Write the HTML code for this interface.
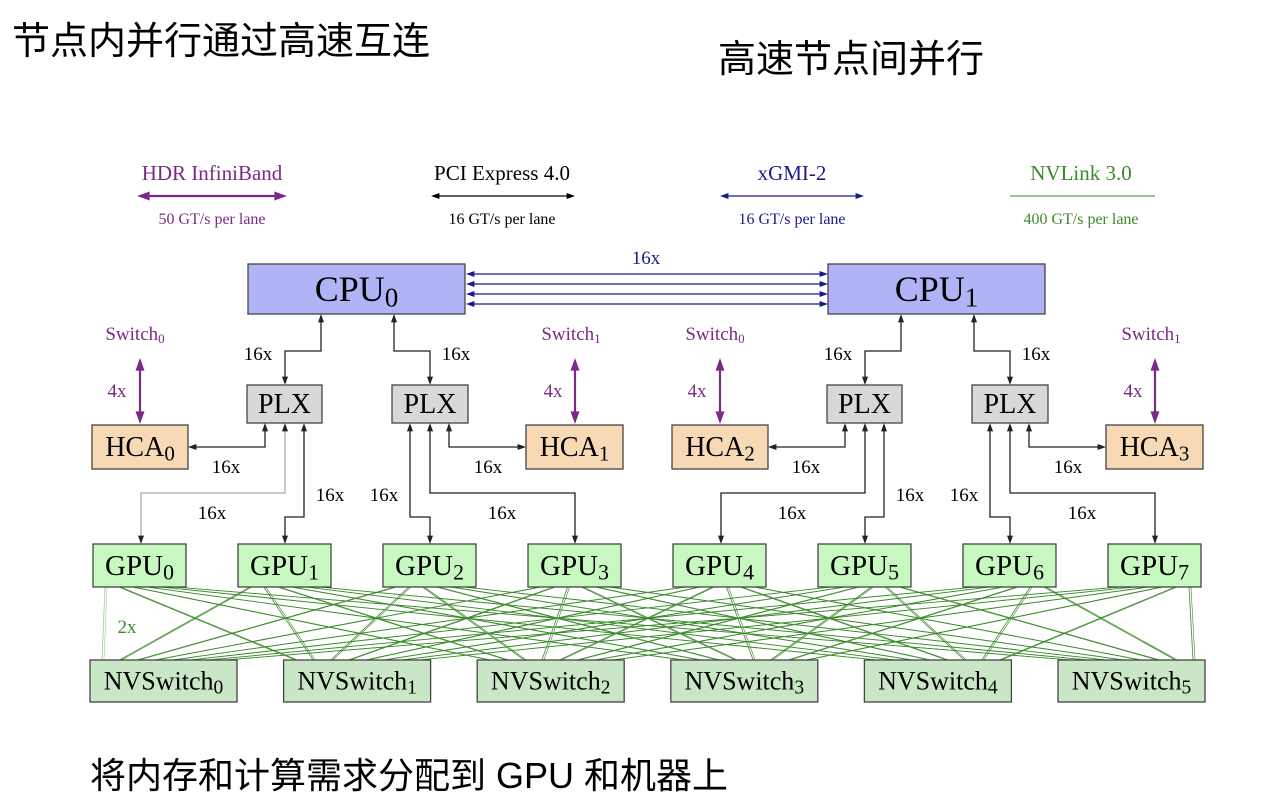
<!DOCTYPE html>
<html><head><meta charset="utf-8">
<style>
html,body{margin:0;padding:0;background:#fff;}
body{width:1287px;height:804px;position:relative;overflow:hidden;}
.cn{position:absolute;font-family:"Liberation Sans","Noto Sans CJK SC",sans-serif;color:#000;white-space:nowrap;line-height:1;}
svg{position:absolute;left:0;top:0;}
svg text{font-family:"Liberation Serif","DejaVu Serif",serif;}
</style></head><body>
<div class="cn" style="left:12px;top:23px;font-size:38px;">节点内并行通过高速互连</div>
<div class="cn" style="left:718px;top:41px;font-size:38px;">高速节点间并行</div>
<div class="cn" style="left:90px;top:758px;font-size:36px;">将内存和计算需求分配到 GPU 和机器上</div>
<svg id="s" width="1287" height="804" viewBox="0 0 1287 804"></svg>
<script>
var o='';
function ln(x1,y1,x2,y2,c,w){o+='<line x1="'+x1+'" y1="'+y1+'" x2="'+x2+'" y2="'+y2+'" stroke="'+c+'" stroke-width="'+(w||1.3)+'"/>';}
function pl(pts,c,w){o+='<polyline points="'+pts+'" fill="none" stroke="'+c+'" stroke-width="'+(w||1.3)+'"/>';}
function ah(x,y,dir,c,s){s=s||6;var p;
 if(dir=='u')p=[x,y,x-s/2,y+s*1.4,x+s/2,y+s*1.4];
 if(dir=='d')p=[x,y,x-s/2,y-s*1.4,x+s/2,y-s*1.4];
 if(dir=='l')p=[x,y,x+s*1.4,y-s/2,x+s*1.4,y+s/2];
 if(dir=='r')p=[x,y,x-s*1.4,y-s/2,x-s*1.4,y+s/2];
 o+='<polygon points="'+p.join(',')+'" fill="'+c+'"/>';}
function tx(x,y,t,sz,c,anc){o+='<text x="'+x+'" y="'+y+'" font-size="'+sz+'" fill="'+(c||'#000')+'" text-anchor="'+(anc||'middle')+'">'+t+'</text>';}
function box(x,y,w,h,f,label,sub,sz){o+='<rect x="'+x+'" y="'+y+'" width="'+w+'" height="'+h+'" fill="'+f+'" stroke="#444" stroke-width="1.3"/>';
 o+='<text x="'+(x+w/2)+'" y="'+(y+h/2+sz*0.33)+'" font-size="'+sz+'" text-anchor="middle">'+label+(sub!==''?'<tspan font-size="'+(sz*0.75)+'" dy="'+(sz*0.15)+'">'+sub+'</tspan>':'')+'</text>';}
var pur='#7a2a86',nav='#1a1a8c',grn='#3a8a2a';
tx(212,180,'HDR InfiniBand',21,pur);ln(142,196,282,196,pur,2.2);ah(137,196,'l',pur,9);ah(287,196,'r',pur,9);tx(212,224,'50 GT/s per lane',16,pur);
tx(502,180,'PCI Express 4.0',21,'#000');ln(436,196,570,196,'#000',1.3);ah(431,196,'l','#000',6);ah(575,196,'r','#000',6);tx(502,224,'16 GT/s per lane',16,'#000');
tx(792,180,'xGMI-2',21,nav);ln(726,196,858,196,nav,1.3);ah(720,196,'l',nav,6);ah(864,196,'r',nav,6);tx(792,224,'16 GT/s per lane',16,nav);
tx(1081,180,'NVLink 3.0',21,grn);ln(1010,196,1155,196,grn,1);tx(1081,224,'400 GT/s per lane',16,grn);
[274,284,294,304].forEach(function(y){ln(472,y,822,y,nav,1.2);ah(466,y,'l',nav,6);ah(828,y,'r',nav,6);});
tx(646,264,'16x',19,nav);
var gx=[],nx=[];
for(var i=0;i<8;i++)gx.push(93+i*145);
for(var j=0;j<6;j++)nx.push(90+j*193.6);
for(var i=0;i<8;i++)for(var j=0;j<6;j++){
 var x1=gx[i]+12+j*(93-24)/5, x2=nx[j]+12+i*(147-24)/7;
 var c=(i==0&&j==0)?'#9fc99a':grn;
 ln(x1,587,x2,660,c,0.8);ln(x1+2,587,x2+2,660,c,0.6);
}
tx(127,633,'2x',19,grn);
for(var h=0;h<2;h++){
 var d=h*580,k='#222';
 box(248+d,264,217,50,'#b0b4f7','CPU',h?'1':'0',36);
 pl((321+d)+',321 '+(321+d)+',351 '+(285+d)+',351 '+(285+d)+',378',k);ah(321+d,314,'u',k);ah(285+d,385,'d',k);
 pl((394+d)+',321 '+(394+d)+',351 '+(430+d)+',351 '+(430+d)+',378',k);ah(394+d,314,'u',k);ah(430+d,385,'d',k);
 tx(258+d,360,'16x',19);tx(456+d,360,'16x',19);
 box(247+d,385,75,38,'#d8d8d8','PLX','',28);
 box(392+d,385,76,38,'#d8d8d8','PLX','',28);
 box(92+d,425,96,44,'#f8d9b6','HCA',h?'2':'0',28);
 box(526+d,425,97,44,'#f8d9b6','HCA',h?'3':'1',28);
 tx(135+d,340,'Switch<tspan font-size="13" dy="3">0</tspan>',19,pur);
 tx(571+d,340,'Switch<tspan font-size="13" dy="3">1</tspan>',19,pur);
 ln(140+d,368,140+d,414,pur,2.2);ah(140+d,358,'u',pur,9);ah(140+d,424,'d',pur,9);
 ln(575+d,368,575+d,414,pur,2.2);ah(575+d,358,'u',pur,9);ah(575+d,424,'d',pur,9);
 tx(117+d,397,'4x',19,pur);tx(553+d,397,'4x',19,pur);
 pl((265+d)+',430 '+(265+d)+',447 '+(195+d)+',447',k);ah(265+d,423,'u',k);ah(188+d,447,'l',k);
 pl((285+d)+',430 '+(285+d)+',493 '+(141+d)+',493 '+(141+d)+',537',h?k:'#aaa');ah(285+d,423,'u',k);ah(141+d,544,'d',k);
 pl((304+d)+',430 '+(304+d)+',517 '+(285+d)+',517 '+(285+d)+',537',k);ah(304+d,423,'u',k);ah(285+d,544,'d',k);
 tx(226+d,473,'16x',19);tx(212+d,519,'16x',19);tx(330+d,501,'16x',19);
 pl((410+d)+',430 '+(410+d)+',517 '+(430+d)+',517 '+(430+d)+',537',k);ah(410+d,423,'u',k);ah(430+d,544,'d',k);
 pl((430+d)+',430 '+(430+d)+',493 '+(575+d)+',493 '+(575+d)+',537',k);ah(430+d,423,'u',k);ah(575+d,544,'d',k);
 pl((449+d)+',430 '+(449+d)+',447 '+(519+d)+',447',k);ah(449+d,423,'u',k);ah(526+d,447,'r',k);
 tx(384+d,501,'16x',19);tx(502+d,519,'16x',19);tx(488+d,473,'16x',19);
 for(var g=0;g<4;g++)box(93+d+g*145,544,93,43,'#c6f8bf','GPU',''+(h*4+g),29);
}
for(var j=0;j<6;j++)box(nx[j],660,147,42,'#c9e6c6','NVSwitch',''+j,26);
document.getElementById('s').innerHTML=o;
</script>
</body></html>
